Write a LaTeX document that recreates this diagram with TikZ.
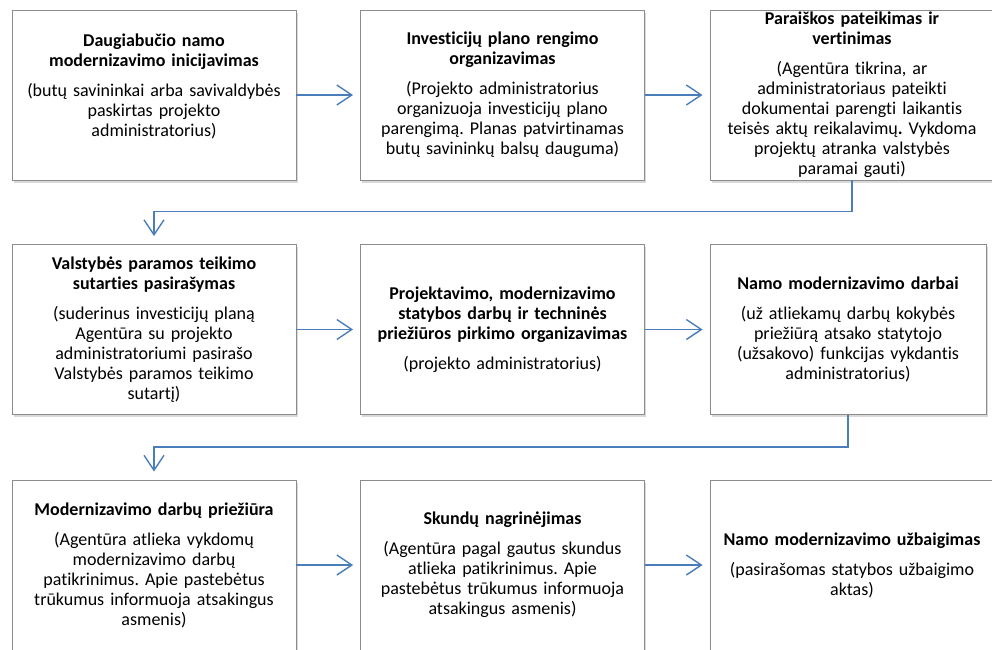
\documentclass[tikz,border=0pt]{standalone}
\usepackage{fontspec}
\setmainfont{Carlito}[Ligatures=NoCommon]
\usetikzlibrary{arrows.meta,shadows}
\definecolor{flow blue}{HTML}{4A7EBB}
\colorlet{stage edge}{black!45}
\tikzset{stage/.style={draw=stage edge, line width=0.8pt, fill=white,
		minimum width=284pt, minimum height=170pt, text width=276pt,
		align=center, inner sep=0pt,
		drop shadow={opacity=0.3, shadow xshift=1.5pt, shadow yshift=-2.5pt},
		font=\fontsize{18}{20}\selectfont\frenchspacing},
	flow/.style={draw=flow blue, line width=1.4pt,
		-{Straight Barb[length=15pt,width=20pt]}, shorten >=7pt}}

\begin{document}
\begin{tikzpicture}[x=1pt,y=-1pt]
		\clip (0,0) rectangle (992,649);
		% first row
		\node[stage] (init) at (154,95) {\textbf{Daugiabučio namo\\ modernizavimo inicijavimas}\\[10pt]
			(butų savininkai arba savivaldybės\\ paskirtas projekto\\ administratorius)\\ \mbox{}};
		\node[stage] (plan) at (502.5,95) {\textbf{Investicijų plano rengimo\\ organizavimas}\\[10pt]
			(Projekto administratorius\\ organizuoja investicijų plano\\ parengimą. Planas patvirtinamas\\ butų savininkų balsų dauguma)};
		\node[stage] (apply) at (852,95) {\textbf{Paraiškos pateikimas ir\\ vertinimas}\\[10pt]
			(Agentūra tikrina, ar\\ administratoriaus pateikti\\ dokumentai parengti laikantis\\ teisės aktų reikalavimų\textbf{.} Vykdoma\\ projektų atranka valstybės\\ paramai gauti)};
		% second row
		\node[stage] (contract) at (154,329.5) {\textbf{Valstybės paramos teikimo\\ sutarties pasirašymas}\\[10pt]
			(suderinus investicijų planą\\ Agentūra su projekto\\ administratoriumi pasirašo\\ Valstybės paramos teikimo\\ sutartį)};
		\node[stage] (procure) at (502.5,329.5) {\textbf{Projektavimo, modernizavimo\\ statybos darbų ir techninės\\ priežiūros pirkimo organizavimas}\\[10pt]
			(projekto administratorius)};
		\node[stage, minimum width=276pt] (works) at (848,329.5) {\textbf{Namo modernizavimo darbai}\\[10pt]
			(už atliekamų darbų kokybės\\ priežiūrą atsako statytojo\\ (užsakovo) funkcijas vykdantis\\ administratorius)};
		% third row
		\node[stage] (supervise) at (154,565) {\textbf{Modernizavimo darbų priežiūra}\\[10pt]
			(Agentūra atlieka vykdomų\\ modernizavimo darbų\\ patikrinimus. Apie pastebėtus\\ trūkumus informuoja atsakingus\\ asmenis)};
		\node[stage] (complaints) at (502.5,565) {\textbf{Skundų nagrinėjimas}\\[10pt]
			(Agentūra pagal gautus skundus\\ atlieka patikrinimus. Apie\\ pastebėtus trūkumus informuoja\\ atsakingus asmenis)};
		\node[stage] (finish) at (852,565) {\textbf{Namo modernizavimo užbaigimas}\\[10pt]
			(pasirašomas statybos užbaigimo\\ aktas)};
		% connectors
		\draw[flow] (init) -- (plan);
		\draw[flow] (plan) -- (apply);
		\draw[flow] (contract) -- (procure);
		\draw[flow] (procure) -- (works);
		\draw[flow] (supervise) -- (complaints);
		\draw[flow] (complaints) -- (finish);
		\draw[flow, shorten >=8pt] (apply.south) -- ++(0,31) -| (contract.north);
		\draw[flow, shorten >=8pt] (works.south) -- ++(0,32) -| (supervise.north);
		\end{tikzpicture}
\end{document}
